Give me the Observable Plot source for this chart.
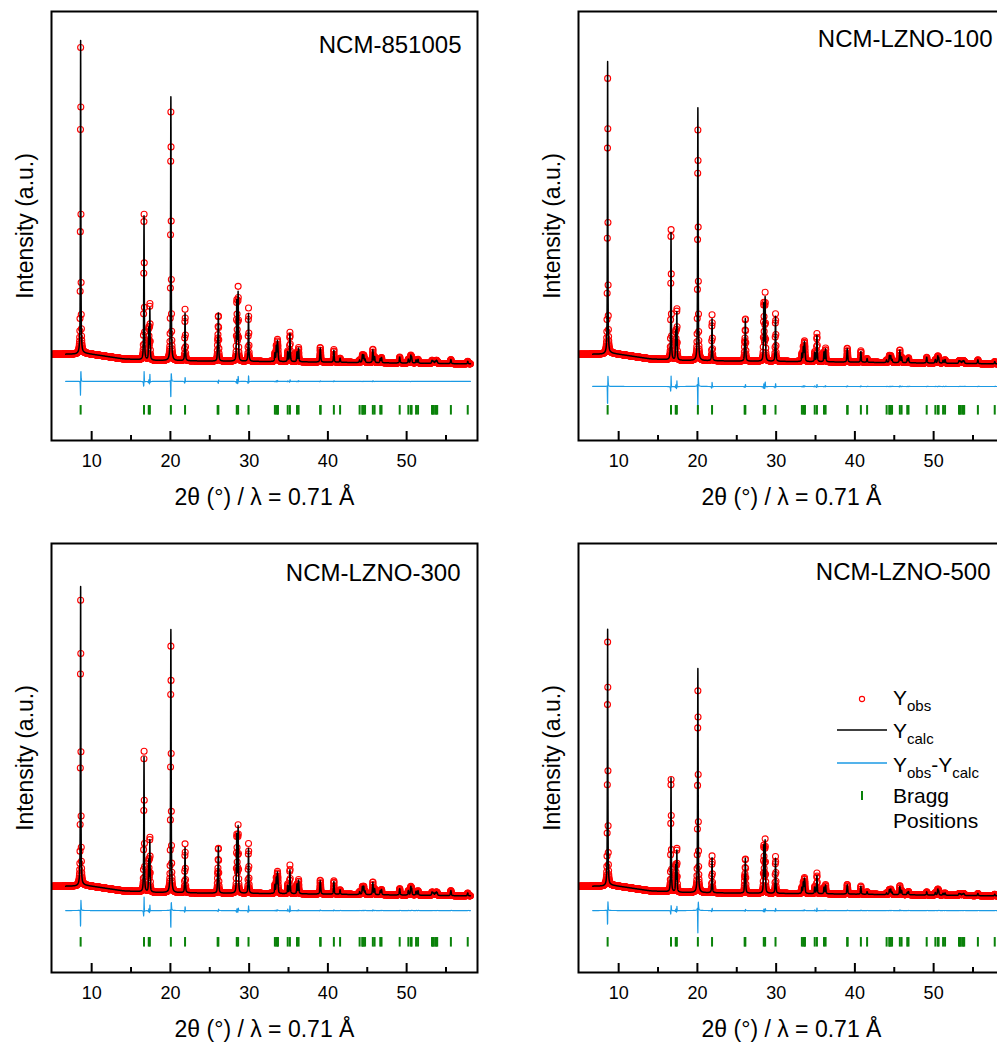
<!DOCTYPE html>
<html>
<head>
<meta charset="utf-8">
<script src="https://cdn.jsdelivr.net/npm/d3@7"></script>
<script src="https://cdn.jsdelivr.net/npm/@observablehq/plot@0.6"></script>
<style>
  html, body { margin: 0; padding: 0; background: #fff; }
  #fig { position: relative; width: 997px; height: 1044px; overflow: hidden; background: #fff; }
  #fig > svg { position: absolute; background: transparent; max-width: none; }
</style>
</head>
<body>
<div id="fig"></div>
<script>
// ---- Axis ticks ----
const xTicksMajor = [10, 20, 30, 40, 50];
const xTicksMinor = [15, 25, 35, 45, 55];

// ---- Bragg reflections of the layered R-3m phase (2θ, λ = 0.71 Å) ----
const braggPos = [
  8.60, 16.65, 17.25, 17.39, 20.06, 21.86, 26.00, 26.09, 28.43, 28.60,
  29.92, 33.27, 33.45, 33.59, 33.66, 34.90, 35.18, 36.08, 36.28, 39.02,
  39.08, 40.76, 41.55, 44.03, 44.38, 44.41, 44.55, 44.72, 45.71, 45.93,
  46.65, 46.81, 49.12, 50.22, 50.53, 50.63, 51.20, 51.45, 53.22, 53.32,
  53.44, 53.64, 53.78, 53.88, 55.62, 57.76
];

// ---- Background level (counts) at anchor angles ----
const bgTheta = [5, 8, 9, 11, 14, 18, 25, 35, 45, 58.2];
const bgLevel = [46, 47, 50, 43, 32, 27, 25, 23, 20, 16];

// ---- Peak heights above background, one value per reflection ----
const calc851005 = [985, 453, 95, 160, 830, 150, 45, 145, 185, 212, 150, 25, 45, 55, 30, 30, 88, 30, 42, 38, 15, 38, 13, 8, 15, 10, 22, 10, 40, 18, 12, 16, 19, 12, 22, 16, 10, 12, 8, 6, 5, 6, 8, 6, 13, 8];
const obs851005  = [966, 478, 100, 182, 784, 162, 45, 140, 190, 228, 168, 25, 47, 58, 30, 32, 92, 30, 44, 40, 15, 40, 13, 8, 15, 10, 22, 10, 42, 18, 12, 16, 19, 12, 22, 16, 10, 12, 8, 6, 5, 6, 8, 6, 13, 8];

const calcLZNO100 = [919, 400, 85, 148, 796, 132, 40, 128, 175, 196, 142, 24, 42, 52, 28, 28, 82, 30, 40, 36, 14, 34, 12, 8, 14, 9, 20, 9, 38, 17, 11, 15, 18, 11, 20, 15, 9, 11, 7, 6, 5, 6, 7, 6, 12, 7];
const obsLZNO100  = [868, 428, 90, 165, 727, 145, 42, 132, 182, 210, 150, 24, 44, 54, 28, 30, 88, 30, 42, 38, 14, 36, 12, 8, 14, 9, 20, 9, 40, 17, 11, 15, 18, 11, 20, 15, 9, 11, 7, 6, 5, 6, 7, 6, 12, 7];

const calcLZNO300 = [941, 425, 95, 160, 828, 142, 42, 140, 180, 205, 142, 26, 46, 56, 30, 25, 75, 30, 42, 36, 14, 40, 14, 9, 16, 10, 24, 10, 38, 18, 12, 16, 20, 14, 24, 18, 12, 14, 9, 7, 6, 7, 9, 7, 16, 9];
const obsLZNO300  = [900, 463, 100, 176, 777, 154, 42, 140, 182, 208, 157, 26, 47, 58, 30, 30, 90, 30, 44, 38, 14, 42, 14, 9, 16, 10, 24, 10, 40, 18, 12, 16, 20, 14, 24, 18, 12, 14, 9, 7, 6, 7, 9, 7, 16, 9];

const calcLZNO500 = [806, 359, 80, 128, 705, 110, 35, 105, 145, 162, 110, 18, 33, 40, 22, 20, 57, 20, 27, 25, 10, 25, 8, 5, 10, 6, 16, 7, 26, 13, 7, 10, 10, 8, 17, 12, 6, 7, 5, 4, 4, 4, 5, 4, 7, 5];
const obsLZNO500  = [768, 368, 84, 140, 636, 116, 36, 106, 148, 165, 116, 18, 34, 42, 22, 22, 65, 20, 28, 26, 10, 26, 8, 5, 10, 6, 16, 7, 28, 13, 7, 10, 10, 8, 17, 12, 6, 7, 5, 4, 4, 4, 5, 4, 7, 5];

// ---- Text ----
const xTitle = "2θ (°) / λ = 0.71 Å";
const yTitle = "Intensity (a.u.)";

// ---- Styling / layout ----
const FONT = "'Liberation Sans', Arial, Helvetica, sans-serif";
const RED = "#ff0000", BLUE = "#1b9ae4", GREEN = "#0a820a";
const FRAME_W = 426, FRAME_H = 429;
const M = {left: 60, top: 11, right: 20, bottom: 80};
const X_DOMAIN = [4.9, 59];
const Y_DOMAIN = [-225, 1125];
const BRAGG_Y = [-115, -145];

// scan: observed points every 0.02°, calculated curve every 0.005°
const OBS_START = 500, OBS_END = 5810, OBS_STEP = 2;      // in 0.01° units
const CALC_START = 1340, CALC_END = 11620;                // in 0.005° units
// small zero-shift of the measured pattern relative to the refined one
const OBS_SHIFT = 0.002;

const panels = [
  {name: "NCM-851005",   calc: calc851005,  obs: obs851005,  diffZero: -39, left: 51,  top: 11,  titleDx: 16, titleDy: 41},
  {name: "NCM-LZNO-100", calc: calcLZNO100, obs: obsLZNO100, diffZero: -55, left: 578, top: 11,  titleDx: 12, titleDy: 35},
  {name: "NCM-LZNO-300", calc: calcLZNO300, obs: obsLZNO300, diffZero: -30, left: 51,  top: 543, titleDx: 17, titleDy: 37},
  {name: "NCM-LZNO-500", calc: calcLZNO500, obs: obsLZNO500, diffZero: -30, left: 578, top: 543, titleDx: 14, titleDy: 36, legend: true}
];

// ---- Profile model: pseudo-Voigt peaks on an interpolated background ----
const fwhm = t => 0.06 + 0.001 * t;
function pseudoVoigt(dx, f) {
  const u = dx / f;
  return 0.7 / (1 + 4 * u * u) + 0.3 * Math.exp(-4 * Math.LN2 * u * u);
}
function background(t) {
  if (t <= bgTheta[0]) return bgLevel[0];
  for (let k = 1; k < bgTheta.length; k++) {
    if (t <= bgTheta[k]) {
      const a = (t - bgTheta[k - 1]) / (bgTheta[k] - bgTheta[k - 1]);
      return bgLevel[k - 1] + a * (bgLevel[k] - bgLevel[k - 1]);
    }
  }
  return bgLevel[bgLevel.length - 1];
}
// peak k with height heights[k]; widths scaled so that each peak keeps the
// integrated intensity of the refined (reference) peak
function profile(t, heights, refHeights, shift) {
  let y = background(t);
  for (let k = 0; k < braggPos.length; k++) {
    const c = braggPos[k] + shift;
    const dx = t - c;
    if (dx > 3 || dx < -3) continue;
    const f = fwhm(braggPos[k]) * (refHeights[k] / heights[k]);
    y += heights[k] * pseudoVoigt(dx, f);
  }
  return y;
}

// ---- Legend drawn inside the last panel ----
function legendMark(index, scales, values, dims) {
  const ox = dims.marginLeft, oy = dims.marginTop;
  const g = d3.create("svg:g").attr("font-family", FONT).attr("fill", "black").attr("text-anchor", "start");
  g.append("circle").attr("cx", ox + 284).attr("cy", oy + 156).attr("r", 2.6)
    .attr("fill", "none").attr("stroke", RED).attr("stroke-width", 1.1);
  g.append("line").attr("x1", ox + 259).attr("x2", ox + 309).attr("y1", oy + 187).attr("y2", oy + 187)
    .attr("stroke", "black").attr("stroke-width", 1.5);
  g.append("line").attr("x1", ox + 259).attr("x2", ox + 309).attr("y1", oy + 220).attr("y2", oy + 220)
    .attr("stroke", BLUE).attr("stroke-width", 1.5);
  g.append("line").attr("x1", ox + 284).attr("x2", ox + 284).attr("y1", oy + 248).attr("y2", oy + 257)
    .attr("stroke", GREEN).attr("stroke-width", 2);

  const tx = ox + 315;
  const addLabel = (y, parts) => {
    const t = g.append("text").attr("x", tx).attr("y", oy + y).attr("font-size", 21);
    let level = 0;
    for (const [s, sub] of parts) {
      const span = t.append("tspan").text(s);
      const target = sub ? 6 : 0;
      if (target !== level) span.attr("dy", target - level);
      if (sub) span.attr("font-size", 15);
      level = target;
    }
  };
  addLabel(162, [["Y", false], ["obs", true]]);
  addLabel(195, [["Y", false], ["calc", true]]);
  addLabel(228.5, [["Y", false], ["obs", true], ["-Y", false], ["calc", true]]);
  addLabel(260, [["Bragg", false]]);
  addLabel(285, [["Positions", false]]);
  return g.node();
}

function drawPanel(p) {
  const obsData = [], calcData = [], diffData = [];
  for (let i = OBS_START; i <= OBS_END; i += OBS_STEP) {
    const t = i / 100;
    const yo = profile(t, p.obs, p.calc, OBS_SHIFT);
    obsData.push({t, v: yo});
    if (t >= 6.7) diffData.push({t, v: p.diffZero + yo - profile(t, p.calc, p.calc, 0)});
  }
  for (let i = CALC_START; i <= CALC_END; i++) {
    const t = i / 200;
    calcData.push({t, v: profile(t, p.calc, p.calc, 0)});
  }

  const marks = [
    Plot.dot(obsData, {x: "t", y: "v", r: 3, stroke: RED, strokeWidth: 1.1, fill: "none", clip: true}),
    Plot.line(calcData, {x: "t", y: "v", stroke: "black", strokeWidth: 1.5}),
    Plot.line(diffData, {x: "t", y: "v", stroke: BLUE, strokeWidth: 1.2}),
    Plot.ruleX(braggPos, {x: d => d, y1: BRAGG_Y[0], y2: BRAGG_Y[1], stroke: GREEN, strokeWidth: 2}),
    Plot.frame({stroke: "black", strokeWidth: 2}),
    Plot.tickX(xTicksMajor, {x: d => d, insetTop: FRAME_H - 9, stroke: "black", strokeWidth: 2}),
    Plot.tickX(xTicksMinor, {x: d => d, insetTop: FRAME_H - 5, stroke: "black", strokeWidth: 2}),
    Plot.text(xTicksMajor, {x: d => d, text: d => String(d), frameAnchor: "bottom", dy: 26, lineAnchor: "bottom", fontSize: 18}),
    Plot.text([xTitle], {frameAnchor: "bottom", dy: 64, lineAnchor: "bottom", fontSize: 23}),
    Plot.text([yTitle], {frameAnchor: "left", dx: -26, rotate: -90, textAnchor: "middle", lineAnchor: "middle", fontSize: 23}),
    Plot.text([p.name], {frameAnchor: "top-right", dx: -p.titleDx, dy: p.titleDy, textAnchor: "end", lineAnchor: "bottom", fontSize: 24})
  ];
  if (p.legend) marks.push(legendMark);

  const svg = Plot.plot({
    width: M.left + FRAME_W + M.right,
    height: M.top + FRAME_H + M.bottom,
    marginLeft: M.left, marginRight: M.right, marginTop: M.top, marginBottom: M.bottom,
    x: {domain: X_DOMAIN, axis: null},
    y: {domain: Y_DOMAIN, axis: null},
    style: {fontFamily: FONT, color: "black", background: "transparent", overflow: "visible"},
    marks
  });
  svg.style.left = (p.left - M.left) + "px";
  svg.style.top = (p.top - M.top) + "px";
  document.getElementById("fig").appendChild(svg);
}

panels.forEach(drawPanel);
</script>
</body>
</html>
